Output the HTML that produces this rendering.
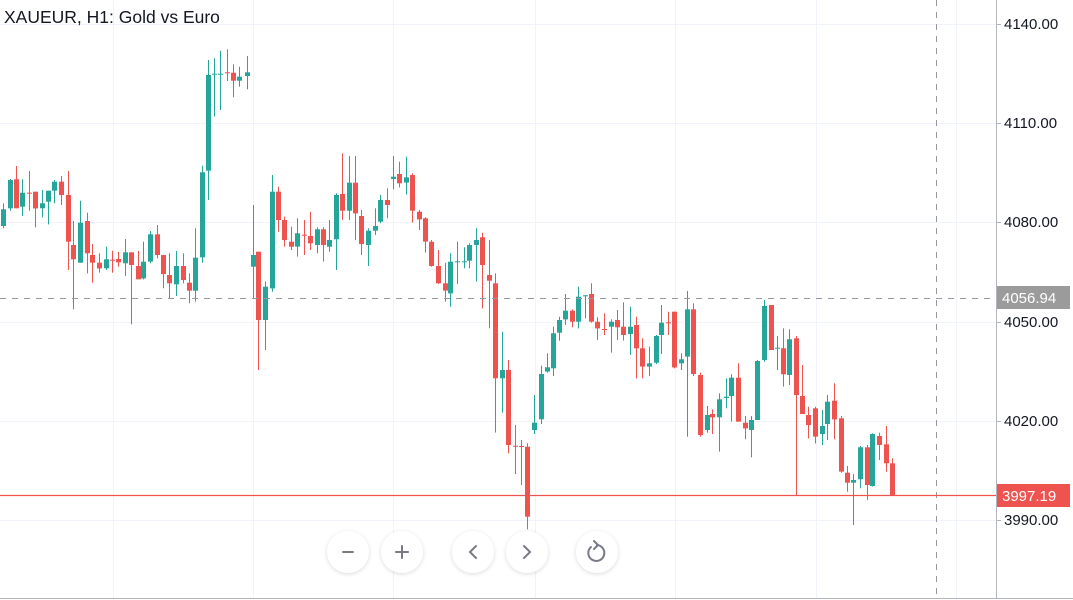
<!DOCTYPE html>
<html><head><meta charset="utf-8">
<style>
html,body{margin:0;padding:0;background:#fff;}
body{width:1073px;height:600px;overflow:hidden;font-family:"Liberation Sans",sans-serif;}
svg{display:block}
</style></head>
<body>
<svg id="c" width="1073" height="600" xmlns="http://www.w3.org/2000/svg">
<defs><filter id="sh" x="-30%" y="-30%" width="160%" height="160%"><feDropShadow dx="0" dy="1" stdDeviation="2" flood-color="#000" flood-opacity="0.15"/></filter></defs>
<g stroke="#f0f3fa" stroke-width="1">
<line x1="0" y1="24.5" x2="996" y2="24.5"/><line x1="0" y1="123.5" x2="996" y2="123.5"/><line x1="0" y1="222.5" x2="996" y2="222.5"/><line x1="0" y1="322.5" x2="996" y2="322.5"/><line x1="0" y1="421.5" x2="996" y2="421.5"/><line x1="0" y1="520.5" x2="996" y2="520.5"/>
<line x1="113.5" y1="0" x2="113.5" y2="598"/><line x1="253.5" y1="0" x2="253.5" y2="598"/><line x1="393.5" y1="0" x2="393.5" y2="598"/><line x1="535.5" y1="0" x2="535.5" y2="598"/><line x1="675.5" y1="0" x2="675.5" y2="598"/><line x1="816.5" y1="0" x2="816.5" y2="598"/><line x1="956.5" y1="0" x2="956.5" y2="598"/>
</g>
<g id="candles"></g>
<line x1="0" y1="298.5" x2="996" y2="298.5" stroke="#9598a1" stroke-dasharray="6,6"/>
<line x1="936.5" y1="0" x2="936.5" y2="598" stroke="#9598a1" stroke-dasharray="6,6"/>
<line x1="0" y1="495.5" x2="996" y2="495.5" stroke="#ef5350" stroke-width="1.2"/>
<line x1="996.5" y1="0" x2="996.5" y2="598" stroke="#b2b5be"/>
<line x1="0" y1="598.5" x2="1073" y2="598.5" stroke="#b2b5be"/>
<g stroke="#b2b5be"><line x1="997" y1="24.5" x2="1001" y2="24.5"/><line x1="997" y1="123.5" x2="1001" y2="123.5"/><line x1="997" y1="222.5" x2="1001" y2="222.5"/><line x1="997" y1="322.5" x2="1001" y2="322.5"/><line x1="997" y1="421.5" x2="1001" y2="421.5"/><line x1="997" y1="520.5" x2="1001" y2="520.5"/></g>
<g font-size="15" fill="#131722">
<text x="1004" y="29">4140.00</text><text x="1004" y="128">4110.00</text><text x="1004" y="227">4080.00</text><text x="1004" y="327">4050.00</text><text x="1004" y="426">4020.00</text><text x="1004" y="525">3990.00</text>
</g>
<rect x="997" y="286" width="73" height="23" fill="#9b9b9b"/>
<text x="1002" y="303" font-size="15" fill="#fff">4056.94</text>
<rect x="997" y="484" width="73" height="23" fill="#ef5350"/>
<text x="1002" y="501" font-size="15" fill="#fff">3997.19</text>
<text x="4" y="23" font-size="17.5" fill="#131722">XAUEUR, H1: Gold vs Euro</text>
<g filter="url(#sh)" fill="#fff">
<circle cx="348" cy="552" r="21"/><circle cx="402" cy="552" r="21"/><circle cx="473" cy="552" r="21"/><circle cx="527" cy="552" r="21"/><circle cx="597" cy="552" r="21"/>
</g>
<g stroke="#787b86" stroke-width="2" fill="none" stroke-linecap="round">
<line x1="343" y1="552" x2="353" y2="552"/>
<line x1="396" y1="552" x2="408" y2="552"/><line x1="402" y1="546" x2="402" y2="558"/>
<polyline points="476,546 470,552 476,558"/>
<polyline points="524,546 530,552 524,558"/>
<path d="M591,547 A8,8 0 1 0 597,545"/>
<polyline points="594,541 598,545 594,549"/>
</g>
</svg>
<script>
var G=[
[0,40,[[9,508,558,490,565,'g'],[29,420,505,417,512,'g'],[48,418,505,378,505,'r'],[66,458,500,418,528,'g'],[86,458,461,393,512,'r'],[106,455,505,455,562,'r'],[126,490,505,450,532,'g'],[143,452,485,452,553,'g'],[163,425,452,420,490,'g'],[183,425,465,408,495,'r'],[203,465,605,393,690,'r'],[220,615,658,543,808,'r'],[240,548,668,482,668,'g'],[260,543,640,518,700,'r'],[276,645,668,612,728,'r'],[296,668,685,640,698,'r'],[317,658,685,620,690,'g'],[337,659,662,632,698,'r'],[354,657,667,636,680,'r'],[374,637,670,597,708,'g'],[393,637,675,637,853,'r'],[413,678,718,633,718,'r'],[430,665,715,605,718,'g'],[450,583,665,573,670,'g'],[470,583,645,555,655,'r'],[488,645,702,645,745,'r'],[508,705,730,640,775,'r'],[528,678,733,633,768,'g'],[548,678,720,640,730,'r'],[566,728,752,700,790,'r'],[585,653,752,565,785,'g'],[605,397,652,377,668,'g'],[625,105,392,60,480,'g'],[641,101,104,55,230,'g'],[661,101,104,32,210,'g'],[682,97,100,28,123,'r'],[698,98,122,73,172,'r'],[718,110,122,80,140,'g'],[740,97,108,48,148,'g']]],
[250,140,[[10,345,380,195,475,'g'],[25,335,540,335,690,'r'],[45,440,540,425,630,'g'],[65,155,445,105,455,'g'],[85,155,240,140,275,'r'],[102,240,300,230,320,'r'],[122,305,320,260,330,'r'],[142,280,320,235,350,'g'],[162,284,287,240,345,'r'],[180,288,310,215,330,'r'],[200,268,315,262,340,'g'],[220,268,315,262,365,'r'],[237,300,320,240,335,'g'],[257,165,298,160,390,'g'],[277,162,212,40,240,'r'],[297,128,212,48,240,'g'],[314,128,220,48,300,'r'],[334,228,312,210,345,'r'],[354,272,315,265,378,'g'],[374,258,272,205,285,'g'],[390,180,245,165,250,'g'],[410,180,195,145,235,'r'],[430,110,117,48,148,'g'],[447,102,130,65,142,'r'],[467,112,128,50,163,'g'],[487,105,212,100,248,'r'],[507,215,238,210,270,'r'],[524,235,305,232,338,'r'],[544,305,378,300,380,'r'],[564,378,430,330,432,'r'],[584,430,452,368,485,'r'],[600,365,460,340,500,'g'],[620,364,367,305,432,'g'],[642,364,367,322,385,'g'],[657,315,362,310,385,'g'],[677,300,315,265,425,'g'],[697,292,375,278,505,'r'],[717,405,422,300,565,'r'],[735,430,715,400,878,'r']]],
[490,270,[[35,300,325,185,428,'g'],[55,300,525,270,550,'r'],[75,527,530,465,612,'r'],[93,528,531,510,645,'r'],[112,530,740,520,778,'r'],[132,458,480,375,492,'g'],[152,312,448,287,462,'g'],[170,292,305,250,308,'g'],[188,190,295,170,318,'g'],[208,150,188,140,212,'g'],[225,122,148,72,165,'g'],[245,122,155,118,172,'r'],[265,80,155,50,175,'g'],[285,76,79,75,145,'g'],[302,72,155,40,158,'r'],[322,155,175,142,210,'r'],[342,177,180,130,195,'r'],[362,155,170,148,248,'g'],[380,150,172,120,210,'r'],[400,170,195,97,212,'r'],[420,170,192,110,255,'g'],[437,165,235,140,325,'r'],[457,235,290,205,325,'r'],[477,280,290,230,318,'g'],[497,198,278,195,282,'g'],[513,158,195,105,252,'g'],[535,157,160,125,195,'r'],[553,125,292,125,295,'r'],[573,268,280,250,300,'g'],[592,118,260,63,500,'g'],[610,118,312,100,318,'r']]],
[690,280,[[30,285,465,278,470,'r'],[50,405,450,378,458,'g'],[67,402,412,388,462,'r'],[87,358,412,340,515,'g'],[107,350,354,295,385,'g'],[124,293,348,283,425,'g'],[145,293,425,250,425,'r'],[164,428,445,408,478,'r'],[184,420,450,408,532,'g'],[202,243,420,240,420,'g'],[222,78,240,60,245,'g'],[242,75,210,75,210,'r'],[262,203,206,168,270,'g'],[278,205,283,145,320,'r'],[298,178,285,148,315,'g'],[318,175,345,168,648,'r'],[335,348,402,255,402,'r'],[355,405,435,380,475,'r'],[375,385,470,380,490,'r'],[395,438,462,390,495,'g'],[412,365,432,345,480,'g'],[432,362,418,310,478,'r'],[452,415,575,408,578,'r'],[472,578,608,558,635,'r'],[490,600,608,582,735,'g'],[510,502,598,498,625,'g'],[530,502,615,495,660,'r'],[547,462,618,460,620,'g'],[567,468,495,458,540,'r'],[587,493,550,438,575,'r'],[607,550,648,535,648,'r']]]
];
var s='';
G.forEach(function(g){var ox=g[0],oy=g[1];g[2].forEach(function(c){
var x=Math.round(ox+c[0]/3),bt=oy+c[1]/3,bb=oy+c[2]/3,wt=oy+c[3]/3,wb=oy+c[4]/3;
var col=c[5]=='g'?'#26a69a':'#ef5350';
s+='<rect x="'+x+'" y="'+wt.toFixed(1)+'" width="1" height="'+(wb-wt).toFixed(1)+'" fill="'+col+'"/>';
s+='<rect x="'+(x-2)+'" y="'+bt.toFixed(1)+'" width="5" height="'+Math.max(1,bb-bt).toFixed(1)+'" fill="'+col+'"/>';
});});
document.getElementById('candles').innerHTML=s;
</script>
</body></html>
